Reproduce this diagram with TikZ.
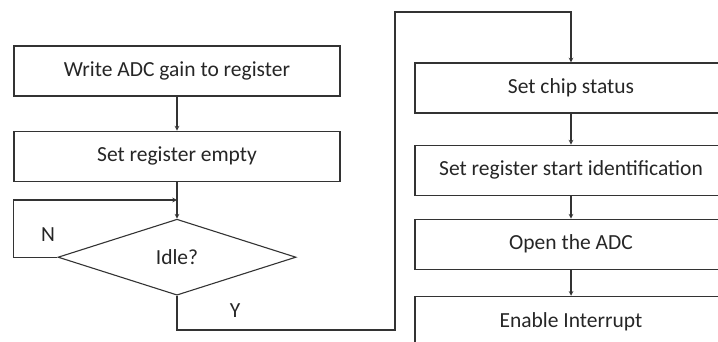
\documentclass[tikz,border=0pt]{standalone}
\usepackage{fontspec}
\setmainfont{Carlito}
\usetikzlibrary{shapes.geometric,positioning}
\tikzset{->, % every connector gets an arrow head
>=stealth, % small filled arrow heads
block/.style={rectangle, draw, minimum width=326pt, minimum height=50pt, font=\fontsize{21.5}{25}\selectfont, text=black!85}, % process boxes
wide/.style={minimum width=312pt}, % boxes of the right column
decision/.style={diamond, draw, minimum width=238pt, minimum height=76pt, inner sep=0pt, font=\fontsize{21.5}{25}\selectfont, text=black!85}, % the test
}

\begin{document}
\begin{tikzpicture}[x=1pt,y=-1pt, line width=1.1pt, color=black!80]
\clip (0,0) rectangle (718,342);
\node[block] (1) at (177,71) {Write ADC gain to register};
\node[block, below=34pt of 1] (2) {Set register empty};
\node[decision, below=37pt of 2] (3) {Idle?};
\node[block, wide] (4) at (571,88) {Set chip status};
\node[block, wide, below=31pt of 4] (5) {Set register start identification};
\node[block, wide, below=23pt of 5] (6) {Open the ADC};
\node[block, wide, below=26pt of 6] (7) {Enable Interrupt};
\node[font=\fontsize{21.5}{25}\selectfont, text=black!85] (n) at (48,235) {N};
\node[font=\fontsize{21.5}{25}\selectfont, text=black!85] (y) at (235,311) {Y};
\coordinate (merge) at (177,200);
\coordinate (c1) at (395,330);
\coordinate (c2) at (395,12);
\draw (1) -- (2);
\draw (2) -- (3);
\draw (3.west) -- ++(-44,0) |- (merge);
\draw (3.south) |- (c1) -- (c2) -| (4.north);
\draw (4) -- (5);
\draw (5) -- (6);
\draw (6) -- (7);
\end{tikzpicture}
\end{document}
